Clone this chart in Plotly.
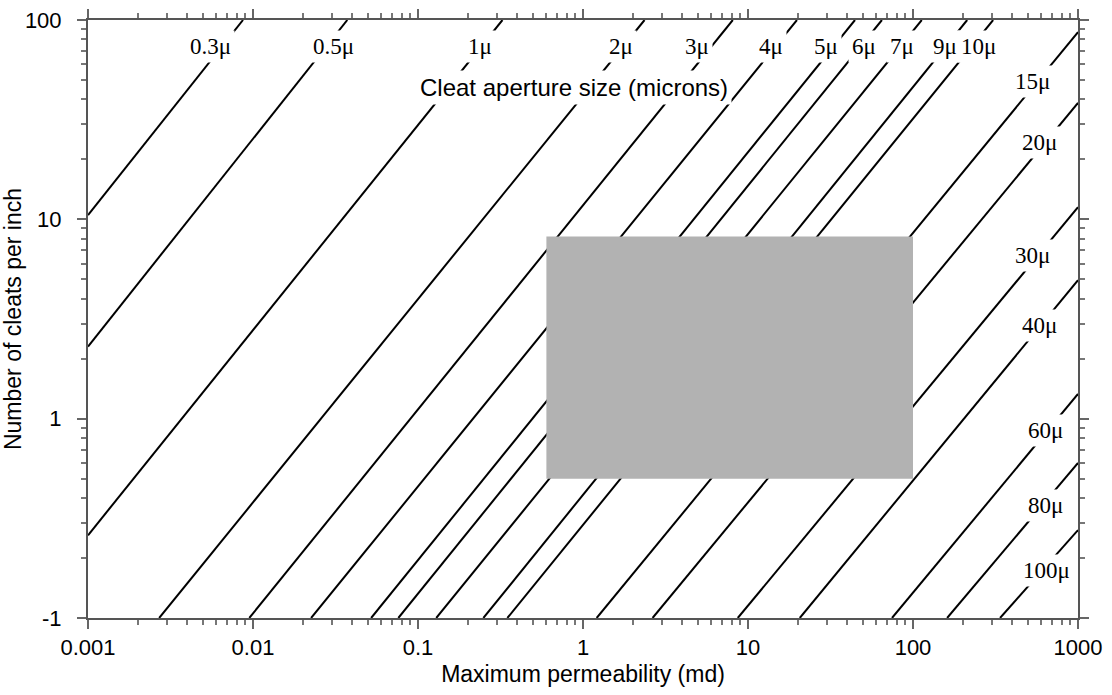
import math
import plotly.graph_objects as go

# ---- data ----
apertures = ["0.3μ", "0.5μ", "1μ", "2μ", "3μ", "4μ", "5μ", "6μ", "7μ", "9μ", "10μ",
             "15μ", "20μ", "30μ", "40μ", "60μ", "80μ", "100μ"]
# start / end points of each cleat-aperture line (permeability md, cleats per inch)
k_start = [0.001, 0.001, 0.001, 0.0027, 0.0095, 0.0225, 0.052, 0.076, 0.129, 0.249, 0.348,
           1.21, 2.64, 8.67, 20.6, 74.6, 161, 337]
n_start = [10.5, 2.3, 0.26, 0.1, 0.1, 0.1, 0.1, 0.1, 0.1, 0.1, 0.1,
           0.1, 0.1, 0.1, 0.1, 0.1, 0.1, 0.1]
k_end = [0.0087, 0.0373, 0.325, 2.36, 8.09, 19.8, 44.5, 64.8, 113, 213, 306,
         1000, 1000, 1000, 1000, 1000, 1000, 1000]
n_end = [100, 100, 100, 100, 100, 100, 100, 100, 100, 100, 100,
         87, 38.4, 11.5, 4.95, 1.33, 0.60, 0.276]

# shaded region (permeability range, cleat spacing range)
box_k = [0.6, 100]
box_n = [0.5, 8.2]

x_tickvals = [0.001, 0.01, 0.1, 1, 10, 100, 1000]
x_ticktext = ["0.001", "0.01", "0.1", "1", "10", "100", "1000"]
y_tickvals = [0.1, 1, 10, 100]
y_ticktext = ["-1", "1", "10", "100"]

# label anchor positions (k, n) for each aperture label
label_k = [0.0055, 0.0307, 0.236, 1.69, 4.89, 13.7, 29.6, 50.5, 85.7, 156, 248,
           527, 582, 527, 582, 632, 632, 641]
label_n = [73.3] * 11 + [48.9, 24.4, 6.62, 2.95, 0.877, 0.368, 0.174]

fig = go.Figure()

for i, name in enumerate(apertures):
    fig.add_trace(go.Scatter(
        x=[k_start[i], k_end[i]], y=[n_start[i], n_end[i]],
        mode="lines", line=dict(color="black", width=2),
        name=name, showlegend=False, hoverinfo="skip"))

fig.add_trace(go.Scatter(
    x=[box_k[0], box_k[1], box_k[1], box_k[0], box_k[0]],
    y=[box_n[0], box_n[0], box_n[1], box_n[1], box_n[0]],
    mode="lines", fill="toself", fillcolor="#b2b2b2",
    line=dict(width=0, color="#b2b2b2"), showlegend=False, hoverinfo="skip"))

annotations = []
for i, name in enumerate(apertures):
    annotations.append(dict(
        x=math.log10(label_k[i]), y=math.log10(label_n[i]), xref="x", yref="y",
        text=name, showarrow=False, bgcolor="white", borderpad=3,
        font=dict(family="Liberation Serif", size=23, color="black")))

annotations.append(dict(
    x=math.log10(0.877), y=math.log10(46.1), xref="x", yref="y",
    text="Cleat aperture size (microns)", showarrow=False, bgcolor="white", borderpad=3,
    font=dict(family="Liberation Sans", size=24, color="black")))

axis_common = dict(
    type="log", showline=True, linecolor="#555555", linewidth=2, mirror="allticks",
    ticks="outside", ticklen=9, tickwidth=2, tickcolor="#666666",
    showgrid=False, zeroline=False, automargin=False,
    tickfont=dict(family="Liberation Sans", size=22, color="black"),
    minor=dict(ticks="outside", ticklen=5, tickwidth=1.5, tickcolor="#777777",
               dtick="D1", showgrid=False),
)

fig.update_layout(
    width=1112, height=695,
    margin=dict(l=88, r=34, t=20, b=77),
    paper_bgcolor="white", plot_bgcolor="white",
    annotations=annotations,
    xaxis=dict(axis_common, range=[-3, 3], tickvals=x_tickvals, ticktext=x_ticktext,
               title=dict(text="Maximum permeability (md)", standoff=6,
                          font=dict(family="Liberation Sans", size=23, color="black"))),
    yaxis=dict(axis_common, range=[-1, 2], tickvals=y_tickvals, ticktext=y_ticktext,
               ticklabelposition="outside", ticklabelstandoff=11,
               title=dict(text="Number of cleats per inch", standoff=2,
                          font=dict(family="Liberation Sans", size=23, color="black"))),
)

fig.write_html("out.html")
